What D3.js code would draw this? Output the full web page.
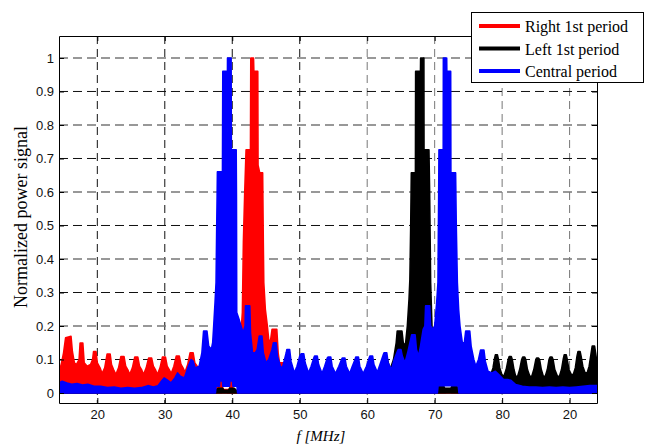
<!DOCTYPE html>
<html>
<head>
<meta charset="utf-8">
<script src="https://cdn.jsdelivr.net/npm/d3@7"></script>
<style>
  body { margin: 0; background: #fff; }
  svg { display: block; }
  .tick text { font-family: "Liberation Sans", Arial, sans-serif; font-size: 13px; fill: #111; }
</style>
</head>
<body>
<div id="chart"></div>
<script>
// axis settings
var xDomain = [14.32, 94.06];
var yDomain = [-0.0298, 1.0656];
var xTicks = [20, 30, 40, 50, 60, 70, 80, 90];
var xTickLabels = ["20", "30", "40", "50", "60", "70", "80", "20"];
var yTicks = [0, 0.1, 0.2, 0.3, 0.4, 0.5, 0.6, 0.7, 0.8, 0.9, 1];
var seriesNames = ["Right 1st period", "Left 1st period", "Central period"];
var seriesColors = ["#ff0000", "#000000", "#0000ff"];

// upper envelopes [f (MHz), normalized power]
var redUp = [
  [14.32,0.06],[14.7,0.09],[15.0,0.12],[15.3,0.165],[16.1,0.169],[16.3,0.124],[16.6,0.09],[16.9,0.085],
  [17.3,0.1],[17.45,0.149],[17.85,0.149],[18.05,0.09],[18.5,0.08],
  [19.0,0.085],[19.3,0.1],[19.45,0.124],[19.8,0.124],[20.0,0.09],[20.4,0.075],[20.7,0.058],
  [21.1,0.075],[21.45,0.116],[21.9,0.116],[22.1,0.085],[22.4,0.07],[22.75,0.055],
  [23.15,0.075],[23.5,0.109],[23.95,0.109],[24.2,0.08],[24.5,0.07],[24.8,0.055],
  [25.2,0.075],[25.55,0.107],[26.0,0.107],[26.25,0.08],[26.55,0.07],[26.85,0.055],
  [27.25,0.075],[27.6,0.104],[28.05,0.104],[28.3,0.08],[28.6,0.07],[28.9,0.055],
  [29.3,0.075],[29.65,0.107],[30.1,0.107],[30.35,0.08],[30.65,0.07],[30.95,0.058],
  [31.35,0.08],[31.7,0.11],[32.15,0.11],[32.4,0.085],[32.7,0.075],[33.0,0.062],
  [33.4,0.085],[33.75,0.12],[34.2,0.12],[34.45,0.09],[34.8,0.08],[35.1,0.065],
  [35.5,0.08],[35.9,0.09],[36.3,0.085],[36.8,0.06],[37.3,0.04],[37.8,0.02],[38.1,0.012],
  [38.2,0.034],[38.5,0.034],[38.6,0.01],[39.6,0.01],[39.7,0.034],[40.0,0.034],[40.1,0.01],[40.8,0.005],
  [41.1,0.12],[41.5,0.24],[41.65,0.45],[41.85,0.6],[42.05,0.726],[42.7,0.726],[42.75,1.0],[43.15,1.0],
  [43.2,0.96],[43.78,0.96],[43.82,0.68],[44.07,0.657],[44.5,0.657],[44.6,0.45],[44.67,0.33],[44.9,0.25],
  [45.2,0.2],[45.45,0.15],[45.7,0.16],[45.9,0.19],[46.6,0.19],[46.8,0.12],[47.0,0.09],[47.6,0.09],
  [47.9,0.06],[48.5,0.05],[50,0.045],[52,0.035],[55,0.025],[60,0.015],[66,0.01],[66.8,0.018],[67.1,0.018],
  [67.4,0.005],[68.7,0.005],[68.9,0.018],[69.2,0.018],[69.5,0.005],[75,0.008],[94.06,0.005]
];
var blackUp = [
  [14.32,0],[37.4,0],[37.6,0.008],[37.9,0.014],[38.6,0.014],[38.8,0.008],[39.4,0.008],[39.6,0.014],[40.3,0.014],[40.6,0.008],[40.9,0],
  [55,0.005],[60,0.02],[62,0.05],[62.6,0.1],[63.0,0.1],[63.4,0.07],[63.9,0.1],[64.3,0.15],
  [64.45,0.185],[65.15,0.185],[65.4,0.14],[65.7,0.15],[65.95,0.2],[66.2,0.28],[66.33,0.34],[66.45,0.5],
  [66.54,0.657],[67.15,0.657],[67.18,0.96],[67.9,0.96],[67.92,1.0],[68.4,1.0],[68.42,0.726],[69.15,0.726],
  [69.25,0.6],[69.4,0.33],[69.6,0.2],[69.9,0.12],[70.3,0.08],[70.7,0.03],[70.9,0.022],[71.3,0.022],
  [71.5,0.014],[72.4,0.014],[72.6,0.022],[73.2,0.022],[73.5,0.014],[74,0.04],[76,0.05],[77.5,0.06],
  [77.9,0.05],[78.4,0.06],[78.65,0.075],[78.85,0.1],[79.0,0.114],[79.3,0.114],[79.45,0.1],[79.65,0.075],[79.95,0.055],[80.25,0.05],
  [80.6,0.07],[80.9,0.1],[81.05,0.109],[81.35,0.109],[81.5,0.1],[81.75,0.07],[82.0,0.05],[82.3,0.05],
  [82.6,0.07],[82.9,0.1],[83.05,0.107],[83.35,0.107],[83.5,0.1],[83.75,0.07],[84.1,0.05],[84.4,0.05],
  [84.7,0.07],[85.0,0.1],[85.1,0.104],[85.4,0.104],[85.55,0.1],[85.8,0.07],[86.1,0.05],[86.4,0.05],
  [86.7,0.07],[86.95,0.1],[87.1,0.107],[87.4,0.107],[87.55,0.1],[87.8,0.07],[88.2,0.05],[88.5,0.05],
  [88.8,0.07],[89.05,0.1],[89.2,0.114],[89.5,0.114],[89.65,0.1],[89.9,0.07],[90.25,0.055],[90.55,0.055],
  [90.85,0.075],[91.1,0.11],[91.25,0.124],[91.55,0.124],[91.7,0.11],[91.95,0.08],[92.3,0.06],[92.6,0.06],
  [92.9,0.08],[93.2,0.12],[93.35,0.14],[93.7,0.14],[93.85,0.12],[94.06,0.09]
];
var blueUp = [
  [14.32,0.03],[14.8,0.035],[15.5,0.03],[16.2,0.026],[17,0.028],[17.8,0.024],[18.6,0.026],[19.5,0.02],
  [20.5,0.02],[21.5,0.016],[22.5,0.018],[23.5,0.014],[24.5,0.016],[25.5,0.014],[26.5,0.016],[27.5,0.022],
  [28.3,0.018],[29.0,0.022],[29.5,0.035],[29.9,0.045],[30.3,0.04],[30.9,0.03],[31.5,0.045],[31.9,0.06],
  [32.3,0.05],[32.9,0.045],[33.5,0.08],[33.9,0.1],[34.2,0.095],[34.5,0.075],[35.1,0.08],[35.5,0.12],
  [35.75,0.185],[36.25,0.185],[36.5,0.14],[36.9,0.13],[37.1,0.15],[37.25,0.2],[37.45,0.27],[37.6,0.33],
  [37.7,0.5],[37.76,0.587],[37.8,0.66],[38.55,0.66],[38.6,0.96],[39.12,0.96],[39.18,0.78],[39.24,0.78],
  [39.3,1.0],[39.83,1.0],[39.86,0.726],[40.58,0.726],[40.62,0.59],[40.66,0.24],[41.0,0.22],[41.3,0.2],
  [41.6,0.18],[41.9,0.2],[41.96,0.26],[42.6,0.26],[42.7,0.18],[43.0,0.12],[43.4,0.12],[43.7,0.13],
  [44.0,0.17],[44.4,0.17],[44.6,0.12],[45.0,0.09],[45.4,0.1],[45.9,0.13],[46.1,0.15],[46.5,0.15],
  [46.7,0.11],[47.2,0.075],[47.5,0.08],[48.0,0.12],[48.1,0.13],[48.5,0.13],[48.7,0.095],[49.2,0.06],
  [49.6,0.08],[50.0,0.11],[50.2,0.117],[50.6,0.117],[50.8,0.09],[51.3,0.06],
  [51.7,0.08],[52.1,0.105],[52.2,0.11],[52.6,0.11],[52.8,0.085],[53.3,0.058],
  [53.7,0.08],[54.1,0.105],[54.2,0.107],[54.6,0.107],[54.8,0.08],[55.3,0.058],
  [55.8,0.08],[56.2,0.1],[56.3,0.104],[56.7,0.104],[56.9,0.08],[57.4,0.058],
  [57.8,0.08],[58.2,0.1],[58.3,0.107],[58.7,0.107],[58.9,0.08],[59.4,0.058],
  [59.9,0.08],[60.3,0.105],[60.4,0.11],[60.8,0.11],[61.0,0.085],[61.5,0.062],
  [61.9,0.085],[62.4,0.115],[62.5,0.12],[62.9,0.12],[63.1,0.09],[63.6,0.07],
  [64.0,0.1],[64.5,0.125],[64.6,0.13],[65.0,0.13],[65.2,0.11],[65.6,0.09],
  [66.0,0.12],[66.5,0.165],[66.6,0.174],[67.1,0.174],[67.3,0.13],[67.6,0.11],
  [67.9,0.14],[68.3,0.19],[68.55,0.2],[68.66,0.26],[69.26,0.26],[69.4,0.2],[69.7,0.19],[70.0,0.2],
  [70.3,0.27],[70.49,0.33],[70.6,0.6],[70.64,0.726],[71.27,0.726],[71.29,1.0],[71.78,1.0],[71.8,0.96],
  [72.37,0.96],[72.4,0.657],[73.1,0.657],[73.2,0.5],[73.36,0.33],[73.55,0.25],[73.75,0.2],[74.1,0.15],
  [74.4,0.15],[74.6,0.185],[75.2,0.185],[75.4,0.14],[75.8,0.1],[76.1,0.08],[76.5,0.1],[76.8,0.128],
  [77.3,0.128],[77.5,0.095],[77.9,0.065],[78.5,0.06],[79.0,0.065],[79.5,0.055],[80.2,0.04],[80.8,0.04],
  [81.3,0.038],[82,0.025],[83,0.02],[84,0.018],[85,0.018],[86,0.016],[87,0.018],[88,0.016],[89,0.018],
  [90,0.016],[91,0.018],[92,0.02],[93,0.022],[94.06,0.022]
];
// lower envelopes
var redLo = [[14.32,0],[94.06,0]];
var blackLo = [[14.32,0],[94.06,0]];
var blueLo = [
  [14.32,0],[37.5,0],[37.6,0.02],[38.1,0.02],[38.15,0.036],[38.55,0.036],[38.6,0.02],
  [39.6,0.02],[39.65,0.036],[40.05,0.036],[40.1,0.02],[40.7,0.02],[40.8,0],
  [70.4,0],[70.5,0.022],[73.5,0.022],[73.6,0],[94.06,0]
];

var width = 656, height = 447;
var plot = { left: 59, right: 597, top: 36, bottom: 403 };

var svg = d3.select("#chart").append("svg")
    .attr("width", width)
    .attr("height", height);

var x = d3.scaleLinear().domain(xDomain).range([plot.left, plot.right]);
var y = d3.scaleLinear().domain(yDomain).range([plot.bottom, plot.top]);

svg.append("defs").append("clipPath").attr("id", "clip")
  .append("rect")
    .attr("x", plot.left).attr("y", plot.top)
    .attr("width", plot.right - plot.left).attr("height", plot.bottom - plot.top);

// grid
var grid = svg.append("g");
grid.selectAll("line.vgrid")
    .data(xTicks)
    .enter().append("line")
    .attr("x1", function (d) { return x(d); })
    .attr("x2", function (d) { return x(d); })
    .attr("y1", plot.top)
    .attr("y2", plot.bottom)
    .attr("stroke", function (d) { return d < 55 ? "#111" : "#777"; })
    .attr("stroke-dasharray", "8,5");
grid.selectAll("line.hgrid")
    .data(yTicks)
    .enter().append("line")
    .attr("x1", plot.left)
    .attr("x2", plot.right)
    .attr("y1", function (d) { return y(d); })
    .attr("y2", function (d) { return y(d); })
    .attr("stroke", function (d, i) { return i % 2 ? "#111" : "#777"; })
    .attr("stroke-width", function (d, i) { return i % 2 ? 1 : 1.6; })
    .attr("stroke-dasharray", "9,5");

// data
var line = d3.line()
    .x(function (d) { return x(d[0]); })
    .y(function (d) { return y(d[1]); });

var bands = [
  { up: redUp, lo: redLo },
  { up: blackUp, lo: blackLo },
  { up: blueUp, lo: blueLo }
];
var dataG = svg.append("g").attr("clip-path", "url(#clip)");
bands.forEach(function (b, i) {
  var pts = b.up.concat(b.lo.slice().reverse());
  dataG.append("path")
      .attr("d", line(pts) + "Z")
      .attr("fill", seriesColors[i])
      .attr("stroke", seriesColors[i])
      .attr("stroke-width", 1.6)
      .attr("stroke-linejoin", "round");
});

// axes (ticks inside, box on all sides)
svg.append("g")
    .attr("transform", "translate(0," + plot.bottom + ")")
    .call(d3.axisBottom(x).tickValues(xTicks)
      .tickFormat(function (d, i) { return xTickLabels[i]; })
      .tickSizeInner(-5).tickSizeOuter(0).tickPadding(7));
svg.append("g")
    .attr("transform", "translate(0," + plot.top + ")")
    .call(d3.axisTop(x).tickValues(xTicks).tickFormat("")
      .tickSizeInner(-5).tickSizeOuter(0));
svg.append("g")
    .attr("transform", "translate(" + plot.left + ",0)")
    .call(d3.axisLeft(y).tickValues(yTicks).tickFormat(d3.format("~g"))
      .tickSizeInner(-5).tickSizeOuter(0).tickPadding(5));
svg.append("g")
    .attr("transform", "translate(" + plot.right + ",0)")
    .call(d3.axisRight(y).tickValues(yTicks).tickFormat("")
      .tickSizeInner(-5).tickSizeOuter(0));
svg.selectAll(".domain, .tick line").attr("stroke", "#000");

// axis labels
svg.append("text")
    .attr("x", 321)
    .attr("y", 441)
    .attr("text-anchor", "middle")
    .style("font-family", "'Liberation Serif', 'Times New Roman', serif")
    .style("font-style", "italic")
    .style("font-size", "15px")
    .text("f [MHz]");
svg.append("text")
    .attr("transform", "translate(27,217) rotate(-90)")
    .attr("text-anchor", "middle")
    .style("font-family", "'Liberation Serif', 'Times New Roman', serif")
    .style("font-size", "18px")
    .text("Normalized power signal");

// legend
var legend = svg.append("g");
legend.append("rect")
    .attr("x", 471.5).attr("y", 12.5)
    .attr("width", 172).attr("height", 70)
    .attr("fill", "#fff")
    .attr("stroke", "#000");
seriesNames.forEach(function (name, i) {
  var cy = 26 + i * 22.5;
  legend.append("line")
      .attr("x1", 479).attr("x2", 520)
      .attr("y1", cy).attr("y2", cy)
      .attr("stroke", seriesColors[i])
      .attr("stroke-width", 4);
  legend.append("text")
      .attr("x", 525)
      .attr("y", cy + 6)
      .style("font-family", "'Liberation Serif', 'Times New Roman', serif")
      .style("font-size", "16px")
      .text(name);
});
</script>
</body>
</html>
